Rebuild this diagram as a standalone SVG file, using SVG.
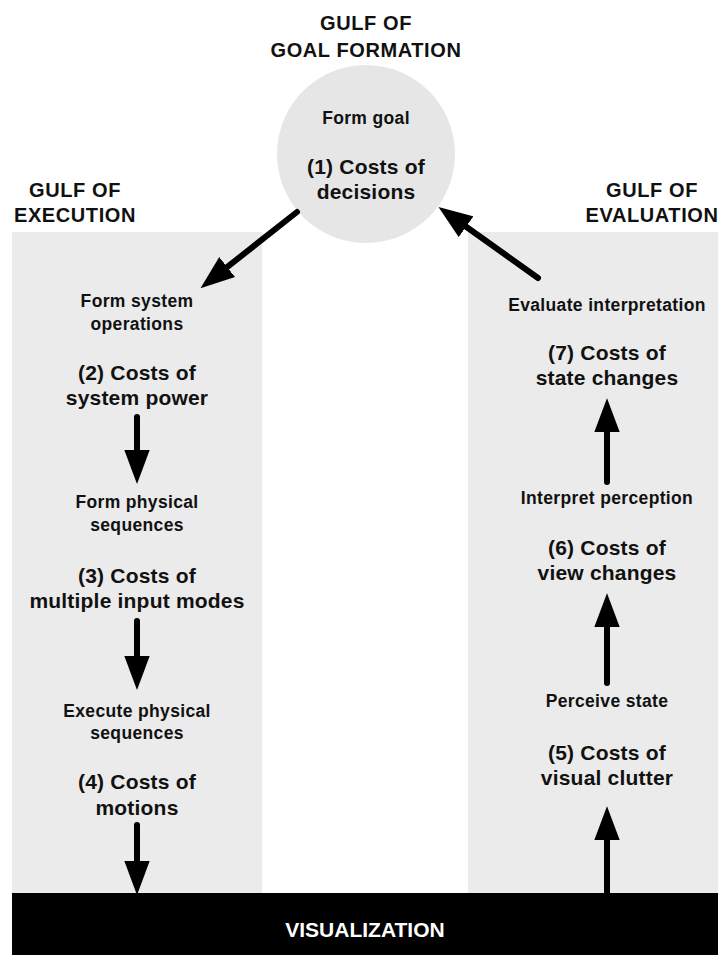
<svg xmlns="http://www.w3.org/2000/svg" width="718" height="955" viewBox="0 0 718 955">
<style>
text{font-family:"Liberation Sans",Arial,sans-serif;font-weight:bold;fill:#111;text-anchor:middle}
.hd{font-size:20px;letter-spacing:0.6px}
.st{font-size:17.5px;letter-spacing:0.35px}
.ct{font-size:21px;letter-spacing:0.2px}
.viz{font-size:21px;fill:#fff}
.panel{fill:#ebebeb}
.arr{stroke:#000;stroke-width:6;stroke-linecap:round;fill:none;marker-end:url(#ah)}
</style>
<defs>
<marker id="ah" markerUnits="userSpaceOnUse" markerWidth="34" markerHeight="26" refX="2" refY="12" orient="auto" viewBox="0 0 32 24">
<path d="M0,0 L32,12 L0,24 z" fill="#000"/>
</marker>
</defs>
<rect width="718" height="955" fill="#fff"/>
<g id="gulf-execution">
<rect class="panel" x="12" y="232" width="250" height="661"/>
<text class="hd" x="75" y="197">GULF OF</text>
<text class="hd" x="75" y="222">EXECUTION</text>
</g>
<g id="gulf-evaluation">
<rect class="panel" x="468" y="232" width="250" height="661"/>
<text class="hd" x="652" y="197">GULF OF</text>
<text class="hd" x="652" y="222">EVALUATION</text>
</g>
<g id="goal">
<text class="hd" x="366" y="30">GULF OF</text>
<text class="hd" x="366" y="57">GOAL FORMATION</text>
<circle cx="366" cy="154" r="89" fill="#e6e6e6"/>
<text class="st" x="366" y="124">Form goal</text>
<text class="ct" x="366" y="174">(1) Costs of</text>
<text class="ct" x="366" y="199">decisions</text>
</g>
<g id="n2">
<text class="st" x="137" y="307">Form system</text>
<text class="st" x="137" y="330">operations</text>
<text class="ct" x="137" y="380">(2) Costs of</text>
<text class="ct" x="137" y="405">system power</text>
</g>
<g id="n3">
<text class="st" x="137" y="508">Form physical</text>
<text class="st" x="137" y="531">sequences</text>
<text class="ct" x="137" y="583">(3) Costs of</text>
<text class="ct" x="137" y="608">multiple input modes</text>
</g>
<g id="n4">
<text class="st" x="137" y="717">Execute physical</text>
<text class="st" x="137" y="739">sequences</text>
<text class="ct" x="137" y="789">(4) Costs of</text>
<text class="ct" x="137" y="815">motions</text>
</g>
<g id="n5">
<text class="st" x="607" y="707">Perceive state</text>
<text class="ct" x="607" y="760">(5) Costs of</text>
<text class="ct" x="607" y="785">visual clutter</text>
</g>
<g id="n6">
<text class="st" x="607" y="504">Interpret perception</text>
<text class="ct" x="607" y="555">(6) Costs of</text>
<text class="ct" x="607" y="580">view changes</text>
</g>
<g id="n7">
<text class="st" x="607" y="311">Evaluate interpretation</text>
<text class="ct" x="607" y="360">(7) Costs of</text>
<text class="ct" x="607" y="385">state changes</text>
</g>
<g id="connectors">
<path class="arr" d="M297,212 L225.5,268.4"/>
<path class="arr" d="M137,417 L137,452"/>
<path class="arr" d="M137,621 L137,658"/>
<path class="arr" d="M137,825 L137,863"/>
<path class="arr" d="M607,896 L607,838" style="stroke-linecap:butt"/>
<path class="arr" d="M607,683 L607,625"/>
<path class="arr" d="M607,482 L607,430"/>
<path class="arr" d="M538,278 L464.4,225.5"/>
</g>
<g id="visualization">
<rect x="12" y="893" width="706" height="62" fill="#000"/>
<text class="viz" x="365" y="937">VISUALIZATION</text>
</g>
</svg>
